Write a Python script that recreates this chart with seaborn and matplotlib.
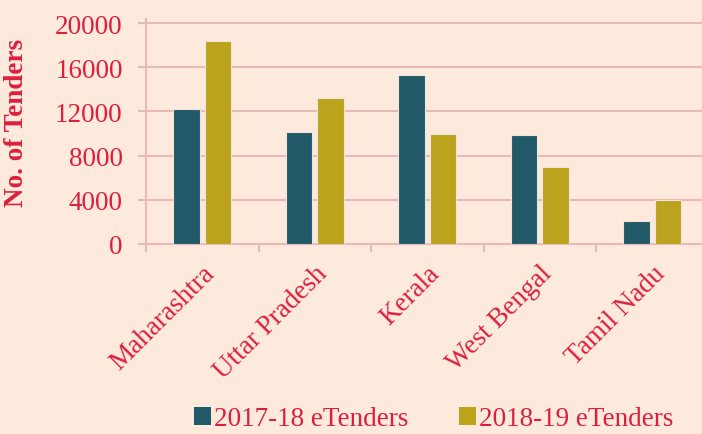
import matplotlib
matplotlib.use("Agg")
import matplotlib.pyplot as plt
import seaborn as sns
import pandas as pd
from matplotlib.patches import Patch

states = ["Maharashtra", "Uttar Pradesh", "Kerala", "West Bengal", "Tamil Nadu"]
series_names = ["2017-18 eTenders", "2018-19 eTenders"]
vals_2017 = [12200, 10150, 15300, 9880, 2050]
vals_2018 = [18400, 13200, 9950, 6950, 4000]
yticks = [0, 4000, 8000, 12000, 16000, 20000]

BG = "#fdeadd"
RED = "#dc1f3c"
GRID = "#e8b9b8"
colors = ["#215968", "#bca31e"]

df = pd.DataFrame({
    "State": states * 2,
    "Series": [series_names[0]] * 5 + [series_names[1]] * 5,
    "Value": vals_2017 + vals_2018,
})

sns.set_theme(style="white")
plt.rcParams["font.family"] = ["Liberation Serif", "DejaVu Serif"]

FS = 19.5
fig = plt.figure(figsize=(7.02, 4.35), dpi=100, facecolor=BG)
ax_h = 221 * 20400 / 20000
ax = fig.add_axes([146 / 702, 190 / 435, 562.5 / 702, ax_h / 435])
ax.set_facecolor(BG)

sns.barplot(data=df, x="State", y="Value", hue="Series", order=states,
            hue_order=series_names, palette=colors, width=0.556, gap=0.15,
            saturation=1, edgecolor="#eee4d8", linewidth=0.8, ax=ax,
            legend=False, zorder=3)

ax.set_xlim(-0.5, 4.5)
ax.set_ylim(0, 20400)
ax.set_yticks(yticks)
ax.set_yticklabels([str(v) for v in yticks])
ax.yaxis.grid(True, color=GRID, linewidth=1.5, zorder=0)
ax.set_axisbelow(True)

for s in ["top", "right"]:
    ax.spines[s].set_visible(False)
ax.spines["left"].set_color(GRID)
ax.spines["left"].set_linewidth(1.5)
ax.spines["bottom"].set_color(GRID)
ax.spines["bottom"].set_linewidth(1.5)

ax.tick_params(axis="y", which="major", length=5.8, width=1.5, color=GRID,
               labelcolor=RED, labelsize=FS, pad=11, left=True)
ax.set_xticks(range(len(states)))
ax.set_xticklabels(states, rotation=45, ha="right", rotation_mode="anchor")
ax.set_xticks([i - 0.5 for i in range(len(states) + 1)], minor=True)
ax.tick_params(axis="x", which="major", length=0, labelcolor=RED,
               labelsize=FS, pad=12)
ax.tick_params(axis="x", which="minor", length=6, width=1.5, color=GRID,
               bottom=True)

ax.set_xlabel("")
ax.set_ylabel("No. of Tenders", color=RED, fontsize=FS, fontweight="bold")
ax.yaxis.set_label_coords(-(146 - 29) / 562.5, (245 - 123) / ax_h)

handles = [Patch(facecolor=c, edgecolor="none") for c in colors]
fig.legend(handles, series_names, loc="center", bbox_to_anchor=(0.618, 0.035),
           ncol=2, frameon=False, fontsize=FS, handlelength=0.62,
           handleheight=0.62, handletextpad=0.12, columnspacing=1.85,
           labelcolor=RED, prop={"size": FS})

fig.savefig("out.png", dpi=100, facecolor=BG)
